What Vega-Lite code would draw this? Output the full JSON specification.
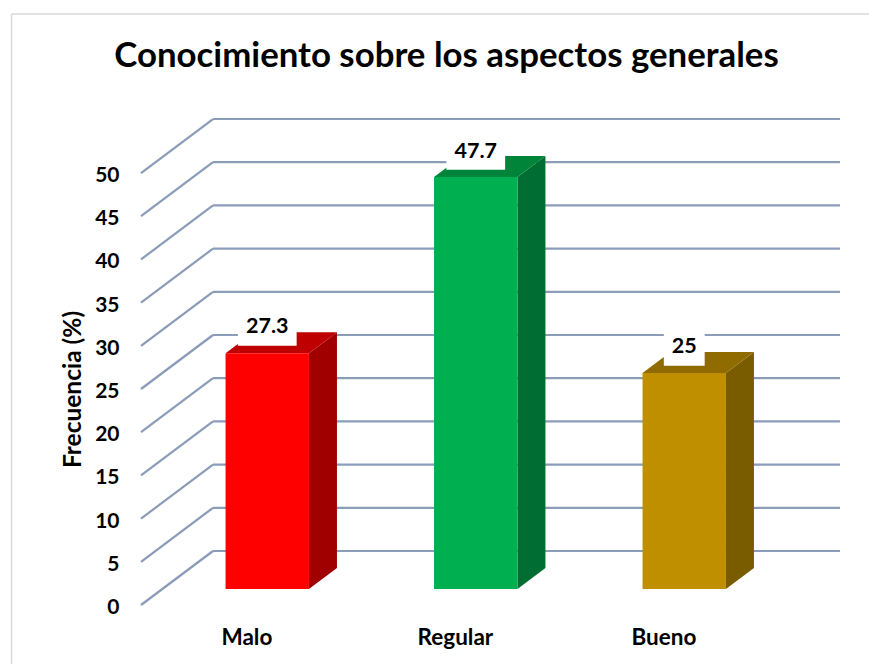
{
"$schema":"https://vega.github.io/schema/vega-lite/v6.json",
"width":700,"height":505,
"autosize":{"type":"none"},
"padding":{"left":141,"top":100,"right":28,"bottom":59},
"background":"white",
"config":{"view":{"stroke":null},"font":"Lato"},
"title":{"text":"Conocimiento sobre los aspectos generales","font":"Lato","fontSize":34.8,"fontWeight":"bold","color":"#000000","anchor":"middle","baseline":"alphabetic","offset":-89,"dx":-44.5},
"datasets":{
"grid":[
{"x":0.3945,"x2":0.7398,"y":0,"y2":6.25},{"x":0.7398,"x2":3.747,"y":6.25,"y2":6.25},
{"x":0.3945,"x2":0.7398,"y":5,"y2":11.25},{"x":0.7398,"x2":3.747,"y":11.25,"y2":11.25},
{"x":0.3945,"x2":0.7398,"y":10,"y2":16.25},{"x":0.7398,"x2":3.747,"y":16.25,"y2":16.25},
{"x":0.3945,"x2":0.7398,"y":15,"y2":21.25},{"x":0.7398,"x2":3.747,"y":21.25,"y2":21.25},
{"x":0.3945,"x2":0.7398,"y":20,"y2":26.25},{"x":0.7398,"x2":3.747,"y":26.25,"y2":26.25},
{"x":0.3945,"x2":0.7398,"y":25,"y2":31.25},{"x":0.7398,"x2":3.747,"y":31.25,"y2":31.25},
{"x":0.3945,"x2":0.7398,"y":30,"y2":36.25},{"x":0.7398,"x2":3.747,"y":36.25,"y2":36.25},
{"x":0.3945,"x2":0.7398,"y":35,"y2":41.25},{"x":0.7398,"x2":3.747,"y":41.25,"y2":41.25},
{"x":0.3945,"x2":0.7398,"y":40,"y2":46.25},{"x":0.7398,"x2":3.747,"y":46.25,"y2":46.25},
{"x":0.3945,"x2":0.7398,"y":45,"y2":51.25},{"x":0.7398,"x2":3.747,"y":51.25,"y2":51.25},
{"x":0.3945,"x2":0.7398,"y":50,"y2":56.25},{"x":0.7398,"x2":3.747,"y":56.25,"y2":56.25}
],
"frame":[
{"x":-0.2266,"x2":3.9,"y":68.4,"y2":68.4},
{"x":-0.2266,"x2":-0.2266,"y":68.4,"y2":-7}
],
"faces":[
{"shade":"Malo lado","x":1.2,"y":29.15,"y2":1.85},{"shade":"Malo lado","x":1.3343,"y":31.58,"y2":4.28},
{"shade":"Malo techo","x":0.8,"y":29.15,"y2":29.15},{"shade":"Malo techo","x":0.9343,"y":31.58,"y2":29.15},{"shade":"Malo techo","x":1.2,"y":31.58,"y2":29.15},{"shade":"Malo techo","x":1.3343,"y":31.58,"y2":31.58},
{"shade":"Regular lado","x":2.2,"y":49.55,"y2":1.85},{"shade":"Regular lado","x":2.3343,"y":51.98,"y2":4.28},
{"shade":"Regular techo","x":1.8,"y":49.55,"y2":49.55},{"shade":"Regular techo","x":1.9343,"y":51.98,"y2":49.55},{"shade":"Regular techo","x":2.2,"y":51.98,"y2":49.55},{"shade":"Regular techo","x":2.3343,"y":51.98,"y2":51.98},
{"shade":"Bueno lado","x":3.2,"y":26.85,"y2":1.85},{"shade":"Bueno lado","x":3.3343,"y":29.28,"y2":4.28},
{"shade":"Bueno techo","x":2.8,"y":26.85,"y2":26.85},{"shade":"Bueno techo","x":2.9343,"y":29.28,"y2":26.85},{"shade":"Bueno techo","x":3.2,"y":29.28,"y2":26.85},{"shade":"Bueno techo","x":3.3343,"y":29.28,"y2":29.28}
],
"bars":[
{"cat":"Malo","value":27.3,"shade":"Malo frente","x":0.8,"x2":1.2,"y":29.15,"y2":1.85,"lx":1,"ly":32.18,"bx":0.859,"bx2":1.141,"by":34.4,"by2":30.0},
{"cat":"Regular","value":47.7,"shade":"Regular frente","x":1.8,"x2":2.2,"y":49.55,"y2":1.85,"lx":2,"ly":52.43,"bx":1.859,"bx2":2.141,"by":54.8,"by2":50.38},
{"cat":"Bueno","value":25,"shade":"Bueno frente","x":2.8,"x2":3.2,"y":26.85,"y2":1.85,"lx":3,"ly":29.86,"bx":2.902,"bx2":3.098,"by":32.06,"by2":27.7}
]
},
"layer":[
{"data":{"name":"frame"},"mark":{"type":"rule","color":"#d9d9d9","strokeWidth":1.5},
"encoding":{
"x":{"field":"x","type":"quantitative","scale":{"domain":[0.39448,3.7518],"nice":false,"zero":false},
"axis":{"title":null,"values":[0.9,1.9,2.9],"labelExpr":"datum.value==0.9?'Malo':datum.value==1.9?'Regular':'Bueno'","grid":false,"domain":false,"ticks":false,"labelPadding":21,"labelFontSize":22.5,"labelFontWeight":"bold","labelColor":"#000000","labelFont":"Lato","labelFlush":false,"labelOverlap":false,"labelBound":false}},
"x2":{"field":"x2"},
"y":{"field":"y","type":"quantitative","scale":{"domain":[0,58.45],"nice":false,"zero":false},
"axis":{"title":"Frecuencia (%)","values":[0,5,10,15,20,25,30,35,40,45,50],"grid":false,"domain":false,"ticks":false,"labelPadding":22,"labelFontSize":21,"labelFontWeight":"bold","labelColor":"#000000","labelFont":"Lato","labelOffset":2.5,"titleFont":"Lato","titleFontSize":24.5,"titleFontWeight":"bold","titleColor":"#000000","titleX":-56,"titleY":289,"labelOverlap":false,"labelBound":false}},
"y2":{"field":"y2"}}},
{"data":{"name":"grid"},"mark":{"type":"rule","color":"#8a9cb8","strokeWidth":2.2},
"encoding":{"x":{"field":"x","type":"quantitative"},"x2":{"field":"x2"},"y":{"field":"y","type":"quantitative"},"y2":{"field":"y2"}}},
{"data":{"name":"faces"},"mark":{"type":"area","interpolate":"linear","opacity":1},
"encoding":{"x":{"field":"x","type":"quantitative"},"y":{"field":"y","type":"quantitative"},"y2":{"field":"y2"},
"color":{"field":"shade","type":"nominal","legend":null,"scale":{"domain":["Malo frente","Malo techo","Malo lado","Regular frente","Regular techo","Regular lado","Bueno frente","Bueno techo","Bueno lado"],"range":["#ff0000","#bf0000","#a00000","#00b050","#008439","#006e32","#bf8f00","#8f6b00","#7a5c00"]}}}},
{"data":{"name":"bars"},"mark":{"type":"rect"},
"encoding":{"x":{"field":"x","type":"quantitative"},"x2":{"field":"x2"},"y":{"field":"y","type":"quantitative"},"y2":{"field":"y2"},
"color":{"field":"shade","type":"nominal","legend":null}}},
{"data":{"name":"bars"},"mark":{"type":"rect","color":"#ffffff"},
"encoding":{"x":{"field":"bx","type":"quantitative"},"x2":{"field":"bx2"},"y":{"field":"by","type":"quantitative"},"y2":{"field":"by2"}}},
{"data":{"name":"bars"},"mark":{"type":"text","font":"Lato","fontSize":21.5,"fontWeight":"bold","color":"#000000","baseline":"middle","align":"center"},
"encoding":{"x":{"field":"lx","type":"quantitative"},"y":{"field":"ly","type":"quantitative"},"text":{"field":"value","type":"nominal"}}}
]
}
